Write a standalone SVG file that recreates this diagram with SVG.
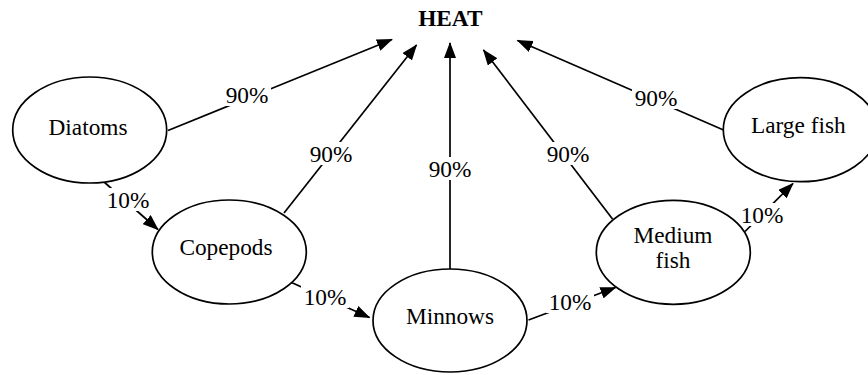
<svg xmlns="http://www.w3.org/2000/svg" width="868" height="375" viewBox="0 0 868 375">
<style>
.node ellipse{fill:#fff;stroke:#000;stroke-width:1.7}
text{font-family:'Liberation Serif','Times New Roman',serif;font-size:23.3px;fill:#000;text-anchor:middle}
.edge{fill:none;stroke:#000;stroke-width:1.7;marker-end:url(#ah)}
.lbl rect{fill:#fff;stroke:none}
.heat{font-weight:bold}
</style>
<defs>
<marker id="ah" viewBox="0 0 16 12" refX="15" refY="6" markerWidth="16" markerHeight="12" markerUnits="userSpaceOnUse" orient="auto">
<path d="M0,0 L16,6 L0,12 z" fill="#000"/>
</marker>
</defs>
<rect width="868" height="375" fill="#fff"/>
<g id="connectors">
<line class="edge" x1="168" y1="130.5" x2="392" y2="39.5"/>
<line class="edge" x1="284" y1="213" x2="416.5" y2="45"/>
<line class="edge" x1="450" y1="269" x2="450" y2="43"/>
<line class="edge" x1="612.5" y1="219" x2="483.5" y2="50"/>
<line class="edge" x1="723.5" y1="130" x2="517.5" y2="40.5"/>
<line class="edge" x1="103.5" y1="181.5" x2="158" y2="229.5"/>
<line class="edge" x1="291.5" y1="282.5" x2="369.5" y2="317.5"/>
<line class="edge" x1="528.5" y1="320" x2="615.5" y2="287.5"/>
<line class="edge" x1="745" y1="231.5" x2="793" y2="183.5"/>
<g class="lbl">
<rect x="223" y="83" width="48" height="23"/><text x="247" y="103">90%</text>
<rect x="307" y="142" width="48" height="23"/><text x="331" y="162">90%</text>
<rect x="426" y="157" width="48" height="23"/><text x="450" y="177">90%</text>
<rect x="544" y="142" width="48" height="23"/><text x="568" y="162">90%</text>
<rect x="632" y="86" width="48" height="23"/><text x="656" y="106">90%</text>
<rect x="104" y="188" width="48" height="23"/><text x="128" y="208">10%</text>
<rect x="301" y="285" width="48" height="23"/><text x="325" y="305">10%</text>
<rect x="546" y="290" width="48" height="23"/><text x="570" y="310">10%</text>
<rect x="738" y="203" width="48" height="23"/><text x="762" y="223">10%</text>
</g>
</g>
<g id="heat"><text class="heat" x="450.3" y="26">HEAT</text></g>
<g id="diatoms" class="node"><ellipse cx="89.7" cy="130" rx="77" ry="53"/><text x="88" y="135">Diatoms</text></g>
<g id="copepods" class="node"><ellipse cx="229.3" cy="252" rx="77" ry="52"/><text x="226" y="255">Copepods</text></g>
<g id="minnows" class="node"><ellipse cx="450" cy="320.5" rx="77" ry="51.5"/><text x="450" y="323.5">Minnows</text></g>
<g id="medium-fish" class="node"><ellipse cx="673.3" cy="252.3" rx="77" ry="52"/><text x="673" y="243.3">Medium</text><text x="673" y="268.3">fish</text></g>
<g id="large-fish" class="node"><ellipse cx="800.3" cy="129.7" rx="77" ry="52"/><text x="798.3" y="132.7">Large fish</text></g>
</svg>
